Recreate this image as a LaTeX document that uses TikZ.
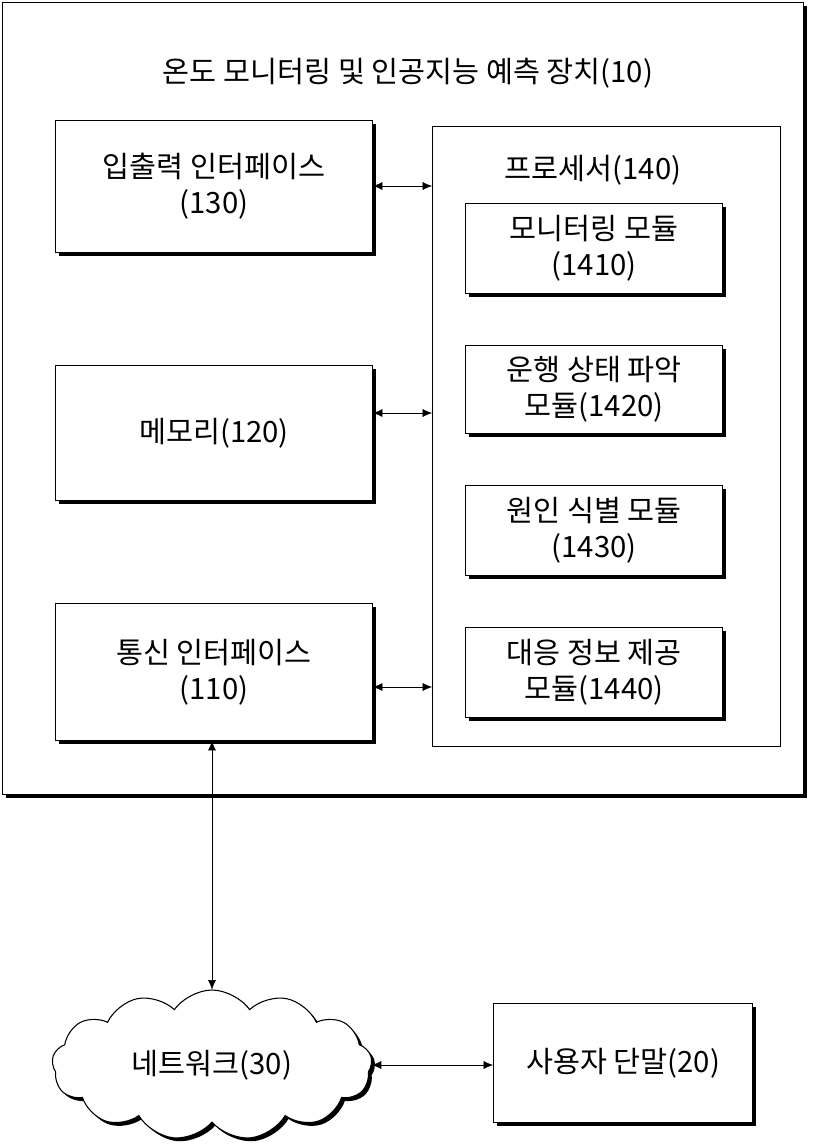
\documentclass[tikz,border=0pt]{standalone}
\usepackage{fontspec}
\setmainfont{Noto Sans CJK KR}
\usetikzlibrary{shapes.symbols,shadows,arrows.meta}
\tikzset{
  box/.style={draw,thick,fill=white,align=center,inner sep=0pt,
    drop shadow={shadow xshift=2.5pt,shadow yshift=-2.5pt,fill=black,opacity=1}},
  link/.style={{Latex[length=7pt,width=6pt]}-{Latex[length=7pt,width=6pt]}}
}
\begin{document}
\begin{tikzpicture}[x=0.75pt,y=-0.75pt,font=\fontsize{22}{27}\selectfont]
  \useasboundingbox (0,0) rectangle (816,1145);
  \node[box,anchor=north west,minimum width=801*0.75pt,minimum height=792*0.75pt] (dev) at (2,2) {};
  \node (title) at (408,73) {온도 모니터링 및 인공지능 예측 장치(10)};

  \node[box,anchor=north west,minimum width=317*0.75pt,minimum height=132*0.75pt] (io) at (55,120) {입출력 인터페이스\\(130)};
  \node[box,anchor=north west,minimum width=317*0.75pt,minimum height=135*0.75pt] (mem) at (55,365) {메모리(120)};
  \node[box,anchor=north west,minimum width=317*0.75pt,minimum height=137*0.75pt] (com) at (55,603) {통신 인터페이스\\(110)};

  \node[draw,thick,fill=white,anchor=north west,minimum width=348*0.75pt,minimum height=620*0.75pt] (proc) at (432,126) {};
  \node (proct) at (593,170) {프로세서(140)};
  \node[box,anchor=north west,minimum width=257*0.75pt,minimum height=90*0.75pt] (m1) at (465,203) {모니터링 모듈\\(1410)};
  \node[box,anchor=north west,minimum width=257*0.75pt,minimum height=88*0.75pt] (m2) at (465,345) {운행 상태 파악\\모듈(1420)};
  \node[box,anchor=north west,minimum width=257*0.75pt,minimum height=90*0.75pt] (m3) at (465,485) {원인 식별 모듈\\(1430)};
  \node[box,anchor=north west,minimum width=257*0.75pt,minimum height=90*0.75pt] (m4) at (465,627) {대응 정보 제공\\모듈(1440)};

  \node[box,cloud,cloud puffs=13,cloud puff arc=110,aspect=2.2,minimum width=320*0.75pt,minimum height=150*0.75pt] (net) at (212,1065) {네트워크(30)};
  \node[box,anchor=north west,minimum width=259*0.75pt,minimum height=119*0.75pt] (user) at (493,1003) {사용자 단말(20)};

  \coordinate (p1) at (432,186);
  \coordinate (p2) at (432,413);
  \coordinate (p3) at (432,687);
  \draw[link] (io.east |- p1) -- (p1);
  \draw[link] (mem.east |- p2) -- (p2);
  \draw[link] (com.east |- p3) -- (p3);
  \draw[link] (com.south -| net.north) -- (net.north);
  \draw[link] (net.east) -- (user.west |- net.east);
\end{tikzpicture}
\end{document}
